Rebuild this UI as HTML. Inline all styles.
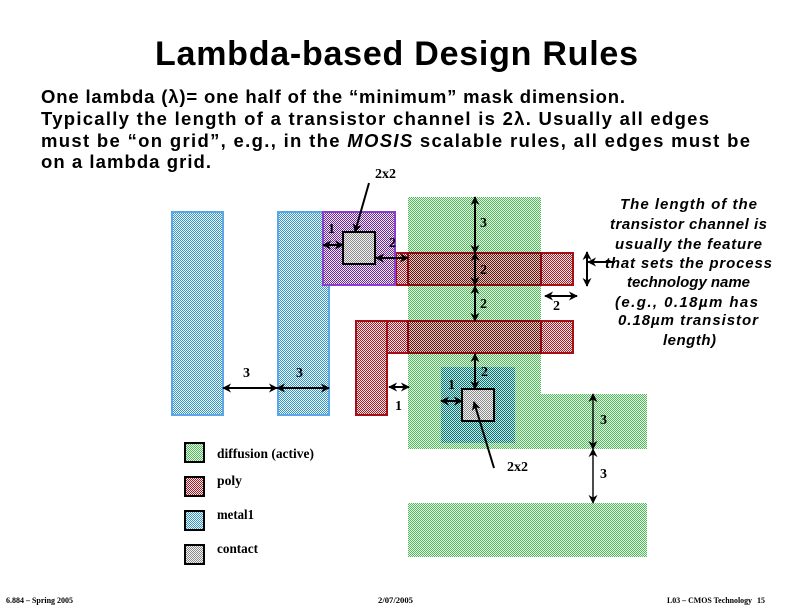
<!DOCTYPE html>
<html><head><meta charset="utf-8"><style>
html,body{margin:0;padding:0;background:#fff;width:792px;height:612px;overflow:hidden}
svg{display:block}
.t{font-family:"Liberation Sans",sans-serif;font-weight:bold;fill:#000}
.i{font-family:"Liberation Sans",sans-serif;font-weight:bold;font-style:italic;font-size:15px;fill:#000}
.s{font-family:"Liberation Serif",serif;font-weight:bold;fill:#000;font-size:14px}
.a{stroke:#000;stroke-width:2;fill:none;marker-start:url(#h);marker-end:url(#h)}
.b{stroke:#000;stroke-width:2;fill:none;marker-end:url(#h)}
.r{shape-rendering:crispEdges}
</style></head><body>
<svg width="792" height="612" viewBox="0 0 792 612" xmlns="http://www.w3.org/2000/svg">
<defs>
<marker id="h" viewBox="0 0 10 10" refX="9" refY="5" markerUnits="userSpaceOnUse" markerWidth="9" markerHeight="9" orient="auto-start-reverse"><path d="M0 0L10 5L0 10L3 5Z" fill="#000"/></marker>
<pattern id="g" width="2" height="2" patternUnits="userSpaceOnUse"><rect width="2" height="2" fill="#e4f5e4"/><rect width="1" height="1" fill="#55b860"/><rect x="1" y="1" width="1" height="1" fill="#55b860"/></pattern>
<pattern id="p" width="2" height="2" patternUnits="userSpaceOnUse"><rect width="2" height="2" fill="#f5e8e8"/><rect width="1" height="1" fill="#a81c28"/><rect x="1" y="1" width="1" height="1" fill="#a81c28"/></pattern>
<pattern id="pd" width="2" height="2" patternUnits="userSpaceOnUse"><rect width="2" height="2" fill="#c8d8c0"/><rect width="1" height="1" fill="#7c0a14"/><rect x="1" y="1" width="1" height="1" fill="#7c0a14"/></pattern>
<pattern id="m" width="2" height="2" patternUnits="userSpaceOnUse"><rect width="2" height="2" fill="#eef8fc"/><rect width="1" height="1" fill="#3a94c0"/><rect x="1" y="1" width="1" height="1" fill="#3a94c0"/></pattern>
<pattern id="md" width="2" height="2" patternUnits="userSpaceOnUse"><rect width="2" height="2" fill="#c0ecd8"/><rect width="1" height="1" fill="#0f6f80"/><rect x="1" y="1" width="1" height="1" fill="#0f6f80"/></pattern>
<pattern id="v" width="2" height="2" patternUnits="userSpaceOnUse"><rect width="2" height="2" fill="#f0e8f6"/><rect width="1" height="1" fill="#6c2c98"/><rect x="1" y="1" width="1" height="1" fill="#6c2c98"/></pattern>
<pattern id="c" width="2" height="2" patternUnits="userSpaceOnUse"><rect width="2" height="2" fill="#f4f4f4"/><rect width="1" height="1" fill="#8a8a8a"/><rect x="1" y="1" width="1" height="1" fill="#8a8a8a"/></pattern>
</defs>

<text class="t" x="155" y="65" font-size="34" textLength="483" lengthAdjust="spacing">Lambda-based Design Rules</text>
<text class="t" x="41" y="103" font-size="18.5" textLength="584" lengthAdjust="spacing">One lambda (λ)= one half of the “minimum” mask dimension.</text>
<text class="t" x="41" y="125" font-size="18.5" textLength="668" lengthAdjust="spacing">Typically the length of a transistor channel is 2λ.  Usually all edges</text>
<text class="t" x="41" y="147" font-size="18.5" textLength="709" lengthAdjust="spacing">must be “on grid”, e.g., in the <tspan font-style="italic">MOSIS</tspan> scalable rules, all edges must be</text>
<text class="t" x="41" y="168" font-size="18.5" textLength="170" lengthAdjust="spacing">on a lambda grid.</text>

<g class="r">
<rect x="408" y="197" width="133" height="252" fill="url(#g)"/>
<rect x="541" y="394" width="106" height="55" fill="url(#g)"/>
<rect x="408" y="503" width="239" height="54" fill="url(#g)"/>

<rect x="172" y="212" width="51" height="203" fill="url(#m)" stroke="#5aa8e8" stroke-width="2"/>
<rect x="278" y="212" width="51" height="203" fill="url(#m)" stroke="#5aa8e8" stroke-width="2"/>

<rect x="396" y="253" width="177" height="32" fill="url(#p)" stroke="#a50f16" stroke-width="2"/>
<rect x="408" y="253" width="133" height="32" fill="url(#pd)" stroke="#8c0a14" stroke-width="2"/>
<rect x="323" y="212" width="72" height="73" fill="url(#v)" stroke="#8a3fd0" stroke-width="2"/>
<rect x="343" y="232" width="32" height="32" fill="url(#c)" stroke="#000" stroke-width="2"/>

<rect x="387" y="321" width="186" height="32" fill="url(#p)" stroke="#a50f16" stroke-width="2"/>
<rect x="356" y="321" width="31" height="94" fill="url(#p)" stroke="#a50f16" stroke-width="2"/>
<rect x="408" y="321" width="133" height="32" fill="url(#pd)" stroke="#8c0a14" stroke-width="2"/>

<rect x="441" y="367" width="74" height="76" fill="url(#md)"/>
<rect x="462" y="389" width="32" height="32" fill="url(#c)" stroke="#000" stroke-width="2"/>

<rect x="185" y="443" width="19" height="19" fill="url(#g)" stroke="#000" stroke-width="2"/>
<rect x="185" y="477" width="19" height="19" fill="url(#p)" stroke="#000" stroke-width="2"/>
<rect x="185" y="511" width="19" height="19" fill="url(#m)" stroke="#000" stroke-width="2"/>
<rect x="185" y="545" width="19" height="19" fill="url(#c)" stroke="#000" stroke-width="2"/>
</g>

<path class="b" d="M369 183L355 232"/>
<path class="a" d="M323 245H343"/>
<path class="a" d="M376 258H408"/>
<path class="a" d="M475 197V253"/>
<path class="a" d="M475 253V285"/>
<path class="a" d="M475 286V321"/>
<path class="a" d="M545 296H577"/>
<path class="a" d="M587 252V286"/>
<path class="b" d="M615 262H588"/>
<path class="a" d="M223 388H277"/>
<path class="a" d="M277 388H329"/>
<path class="a" d="M475 354V389"/>
<path class="a" d="M389 387H409"/>
<path class="a" d="M441 401H462"/>
<path class="b" d="M494 468L474 402"/>
<path class="a" d="M593 394V449" style="stroke-width:1.4"/>
<path class="a" d="M593 449V503" style="stroke-width:1.4"/>

<text class="s" x="375" y="178" textLength="21" lengthAdjust="spacingAndGlyphs">2x2</text>
<text class="s" x="507" y="471" textLength="21" lengthAdjust="spacingAndGlyphs">2x2</text>
<text class="s" x="480" y="227">3</text>
<text class="s" x="328" y="233">1</text>
<text class="s" x="389" y="247">2</text>
<text class="s" x="480" y="274">2</text>
<text class="s" x="480" y="308">2</text>
<text class="s" x="553" y="310">2</text>
<text class="s" x="243" y="377">3</text>
<text class="s" x="296" y="377">3</text>
<text class="s" x="481" y="376">2</text>
<text class="s" x="448" y="389">1</text>
<text class="s" x="395" y="410">1</text>
<text class="s" x="600" y="424">3</text>
<text class="s" x="600" y="478">3</text>

<text class="i" x="620" y="209" textLength="137" lengthAdjust="spacing">The length of the</text>
<text class="i" x="610" y="229" textLength="157" lengthAdjust="spacing">transistor channel is</text>
<text class="i" x="615" y="249" textLength="147" lengthAdjust="spacing">usually the feature</text>
<text class="i" x="605" y="268" textLength="167" lengthAdjust="spacing">that sets the process</text>
<text class="i" x="627" y="287" textLength="123" lengthAdjust="spacing">technology name</text>
<text class="i" x="615" y="307" textLength="143" lengthAdjust="spacing">(e.g., 0.18µm has</text>
<text class="i" x="618" y="325" textLength="140" lengthAdjust="spacing">0.18µm transistor</text>
<text class="i" x="663" y="345" textLength="53" lengthAdjust="spacing">length)</text>

<text class="s" x="217" y="458" font-size="13" textLength="97" lengthAdjust="spacingAndGlyphs">diffusion (active)</text>
<text class="s" x="217" y="485" font-size="13" textLength="25" lengthAdjust="spacingAndGlyphs">poly</text>
<text class="s" x="217" y="519" font-size="13" textLength="37" lengthAdjust="spacingAndGlyphs">metal1</text>
<text class="s" x="217" y="553" font-size="13" textLength="41" lengthAdjust="spacingAndGlyphs">contact</text>

<text class="s" style="font-size:8px" x="6" y="603" textLength="67" lengthAdjust="spacingAndGlyphs">6.884 – Spring 2005</text>
<text class="s" style="font-size:8px" x="378" y="603" textLength="35" lengthAdjust="spacingAndGlyphs">2/07/2005</text>
<text class="s" style="font-size:8px" x="667" y="603" textLength="85" lengthAdjust="spacingAndGlyphs">L03 – CMOS Technology</text>
<text class="s" style="font-size:8px" x="757" y="603">15</text>
</svg>
</body></html>
